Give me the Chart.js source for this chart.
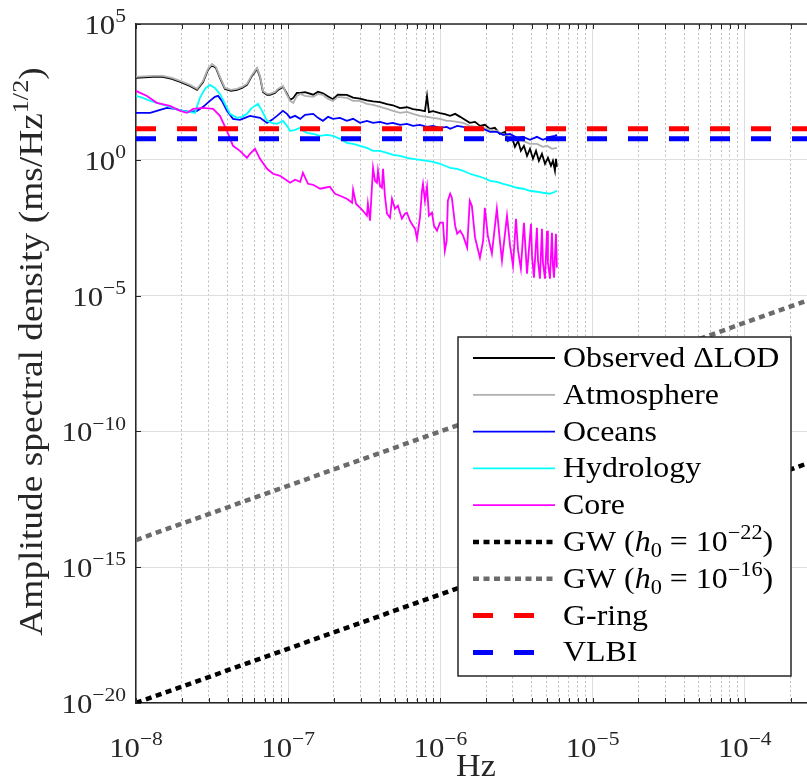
<!DOCTYPE html>
<html>
<head>
<meta charset="utf-8">
<script src="https://cdn.jsdelivr.net/npm/chart.js@4.4.1/dist/chart.umd.min.js"></script>
<style>
  html, body { margin: 0; padding: 0; background: #fff; }
  canvas { display: block; }
</style>
</head>
<body>
<canvas id="asdChart" width="807" height="780"></canvas>
<script>
// ---- values ----
const xDecades = [-8, -7, -6, -5, -4];
const xMinorSteps = [2, 3, 4, 5, 6, 7, 8, 9];
const yDecades = [-20, -15, -10, -5, 0, 5];

// Observed ΔLOD
const obsFreq = [1.0e-8, 1.29e-8, 1.50e-8, 1.72e-8, 1.95e-8, 2.26e-8, 2.52e-8, 2.76e-8, 2.97e-8, 3.16e-8,
  3.35e-8, 3.56e-8, 3.84e-8, 4.21e-8, 4.61e-8, 4.97e-8, 5.36e-8, 5.78e-8, 6.24e-8, 6.53e-8,
  6.83e-8, 7.26e-8, 7.59e-8, 8.19e-8, 8.57e-8, 9.24e-8, 9.67e-8, 1.03e-7, 1.08e-7, 1.14e-7,
  1.20e-7, 1.29e-7, 1.46e-7, 1.57e-7, 1.69e-7, 1.83e-7, 1.97e-7, 2.12e-7, 2.43e-7, 2.67e-7,
  2.96e-7, 3.29e-7, 3.61e-7, 4.01e-7, 4.46e-7, 4.88e-7, 5.43e-7, 6.03e-7, 6.61e-7, 7.34e-7,
  7.92e-7, 8.17e-7, 8.41e-7, 8.94e-7, 9.94e-7, 1.07e-6, 1.16e-6, 1.25e-6, 1.35e-6, 1.45e-6,
  1.56e-6, 1.69e-6, 1.82e-6, 1.96e-6, 2.12e-6, 2.28e-6, 2.46e-6, 2.66e-6, 2.78e-6, 2.95e-6,
  3.09e-6, 3.24e-6, 3.38e-6, 3.54e-6, 3.71e-6, 3.88e-6, 4.06e-6, 4.25e-6, 4.44e-6, 4.65e-6,
  4.87e-6, 5.09e-6, 5.33e-6, 5.49e-6, 5.66e-6, 5.75e-6, 5.83e-6];
const obsAsd = [1033, 1125, 1125, 950, 736, 526, 374, 736, 2033, 3105,
  2410, 1033, 408, 344, 374, 444, 572, 1225, 2213, 1125,
  316, 245, 245, 290, 374, 483, 316, 161, 190, 290,
  290, 310, 250, 320, 280, 215, 170, 250, 245, 195,
  180, 155, 142, 132, 112, 102, 80.0, 86.0, 73.0, 67.0,
  62.0, 225, 57.0, 62.0, 52.0, 48.0, 41.5, 49.1, 38.1, 29.6,
  22.9, 24.9, 17.8, 19.4, 13.8, 15.0, 9.03, 10.7, 5.00, 7.00,
  3.01, 5.00, 2.14, 3.27, 1.40, 2.54, 1.09, 2.14, 0.919, 1.66,
  0.713, 1.18, 0.602, 0.919, 0.394, 1.09, 0.553];

// Atmosphere
const atmFreq = [1.0e-8, 1.29e-8, 1.50e-8, 1.72e-8, 1.95e-8, 2.26e-8, 2.52e-8, 2.76e-8, 2.97e-8, 3.16e-8,
  3.35e-8, 3.56e-8, 3.84e-8, 4.21e-8, 4.61e-8, 4.97e-8, 5.36e-8, 5.78e-8, 6.24e-8, 6.53e-8,
  6.83e-8, 7.26e-8, 7.59e-8, 8.19e-8, 8.57e-8, 9.24e-8, 9.67e-8, 1.03e-7, 1.08e-7, 1.14e-7,
  1.20e-7, 1.29e-7, 1.46e-7, 1.57e-7, 1.69e-7, 1.83e-7, 1.97e-7, 2.12e-7, 2.43e-7, 2.67e-7,
  2.96e-7, 3.29e-7, 3.61e-7, 4.01e-7, 4.46e-7, 4.88e-7, 5.43e-7, 6.03e-7, 6.61e-7, 7.34e-7,
  8.17e-7, 8.94e-7, 9.94e-7, 1.10e-6, 1.16e-6, 1.29e-6, 1.41e-6, 1.56e-6, 1.74e-6, 1.91e-6,
  2.12e-6, 2.35e-6, 2.58e-6, 2.87e-6, 3.19e-6, 3.49e-6, 3.88e-6, 4.31e-6, 4.72e-6, 5.02e-6,
  5.41e-6, 5.83e-6];
const atmAsd = [1125, 1225, 1225, 1033, 802, 572, 408, 802, 2213, 3380,
  2624, 1125, 444, 374, 408, 483, 623, 1333, 2410, 1225,
  344, 267, 267, 316, 408, 526, 290, 148, 125, 225,
  267, 225, 207, 267, 245, 175, 148, 207, 190, 148,
  148, 115, 105, 88.9, 75.0, 63.3, 53.4, 58.2, 49.1, 41.5,
  38.1, 35.0, 32.2, 27.2, 27.2, 24.9, 22.9, 17.8, 16.3, 15.0,
  12.7, 11.6, 8.30, 7.63, 5.43, 5.00, 3.87, 3.87, 3.01, 3.27,
  2.54, 2.76];

// Oceans
const oceFreq = [1.0e-8, 1.24e-8, 1.44e-8, 1.60e-8, 1.80e-8, 2.04e-8, 2.26e-8, 2.52e-8, 2.76e-8, 3.06e-8,
  3.30e-8, 3.46e-8, 3.67e-8, 3.96e-8, 4.34e-8, 4.82e-8, 5.20e-8, 5.61e-8, 6.05e-8, 6.53e-8,
  7.26e-8, 7.82e-8, 8.44e-8, 9.24e-8, 9.82e-8, 1.03e-7, 1.11e-7, 1.20e-7, 1.29e-7, 1.46e-7,
  1.57e-7, 1.69e-7, 1.83e-7, 1.97e-7, 2.19e-7, 2.43e-7, 2.67e-7, 2.96e-7, 3.29e-7, 3.61e-7,
  4.01e-7, 4.46e-7, 4.88e-7, 5.43e-7, 6.03e-7, 6.61e-7, 7.34e-7, 8.17e-7, 8.94e-7, 9.94e-7,
  1.10e-6, 1.16e-6, 1.29e-6, 1.41e-6, 1.56e-6, 1.74e-6, 1.91e-6, 2.12e-6, 2.35e-6, 2.58e-6,
  2.87e-6, 3.19e-6, 3.49e-6, 3.88e-6, 4.31e-6, 4.72e-6, 5.25e-6, 5.66e-6, 5.83e-6];
const oceAsd = [53.4, 53.4, 68.9, 81.6, 75.0, 63.3, 58.2, 63.3, 88.9, 148,
  207, 225, 148, 63.3, 32.2, 29.6, 35.0, 41.5, 38.1, 35.0,
  22.9, 29.6, 41.5, 63.3, 49.1, 35.0, 41.5, 32.2, 45.1, 49.1,
  35.0, 27.2, 38.1, 32.2, 35.0, 27.2, 32.2, 22.9, 27.2, 22.9,
  24.9, 21.1, 22.9, 19.4, 21.1, 17.8, 19.4, 16.3, 17.8, 15.0,
  16.3, 13.8, 17.8, 16.3, 15.0, 12.7, 13.8, 10.7, 10.7, 8.30,
  9.03, 6.44, 7.00, 5.43, 7.00, 5.43, 7.00, 7.63, 8.30];

// Hydrology
const hydFreq = [1.0e-8, 1.11e-8, 1.24e-8, 1.44e-8, 1.60e-8, 1.80e-8, 2.04e-8, 2.26e-8, 2.44e-8, 2.63e-8,
  2.84e-8, 3.06e-8, 3.30e-8, 3.56e-8, 3.84e-8, 4.15e-8, 4.61e-8, 4.97e-8, 5.36e-8, 5.78e-8,
  6.33e-8, 6.73e-8, 7.26e-8, 7.82e-8, 8.44e-8, 9.24e-8, 9.82e-8, 1.03e-7, 1.11e-7, 1.20e-7,
  1.25e-7, 1.33e-7, 1.46e-7, 1.62e-7, 1.80e-7, 1.97e-7, 2.19e-7, 2.43e-7, 2.67e-7, 2.96e-7,
  3.29e-7, 3.61e-7, 4.01e-7, 4.46e-7, 4.88e-7, 5.43e-7, 6.03e-7, 6.61e-7, 7.34e-7, 8.17e-7,
  8.94e-7, 9.94e-7, 1.07e-6, 1.16e-6, 1.29e-6, 1.41e-6, 1.56e-6, 1.74e-6, 1.91e-6, 2.12e-6,
  2.35e-6, 2.58e-6, 2.87e-6, 3.19e-6, 3.49e-6, 3.88e-6, 4.31e-6, 4.72e-6, 5.25e-6, 5.66e-6,
  5.83e-6];
const hydAsd = [225, 190, 148, 115, 96.7, 75.0, 63.3, 58.2, 53.4, 190,
  408, 572, 444, 267, 115, 49.1, 35.0, 38.1, 49.1, 81.6,
  115, 63.3, 27.2, 22.9, 21.1, 27.2, 17.8, 11.6, 12.7, 15.0,
  11.6, 9.84, 9.03, 7.63, 8.30, 7.63, 5.92, 4.22, 3.87, 3.27,
  2.76, 2.14, 2.14, 1.81, 1.53, 1.40, 1.18, 1.09, 1.00, 0.919,
  0.844, 0.713, 0.602, 0.508, 0.467, 0.394, 0.306, 0.258, 0.218, 0.169,
  0.155, 0.131, 0.111, 0.0935, 0.0859, 0.0725, 0.0667, 0.0612, 0.0562, 0.0667,
  0.0725];

// Core
const coreFreq = [1.0e-8, 1.18e-8, 1.37e-8, 1.67e-8, 1.95e-8, 2.16e-8, 2.37e-8, 2.76e-8, 3.21e-8, 3.56e-8,
  3.96e-8, 4.34e-8, 4.82e-8, 5.36e-8, 5.61e-8, 6.05e-8, 6.53e-8, 7.26e-8, 7.95e-8, 8.84e-8,
  9.24e-8, 1.03e-7, 1.11e-7, 1.20e-7, 1.25e-7, 1.35e-7, 1.46e-7, 1.62e-7, 1.74e-7, 1.88e-7,
  2.03e-7, 2.19e-7, 2.43e-7, 2.63e-7, 2.67e-7, 2.79e-7, 2.96e-7, 3.10e-7, 3.29e-7, 3.34e-7,
  3.45e-7, 3.61e-7, 3.72e-7, 3.83e-7, 3.89e-7, 4.01e-7, 4.13e-7, 4.20e-7, 4.32e-7, 4.46e-7,
  4.67e-7, 4.81e-7, 5.03e-7, 5.26e-7, 5.43e-7, 5.59e-7, 5.85e-7, 6.03e-7, 6.31e-7, 6.61e-7,
  6.81e-7, 7.02e-7, 7.34e-7, 7.57e-7, 7.69e-7, 7.92e-7, 8.17e-7, 8.41e-7, 8.81e-7, 9.08e-7,
  9.50e-7, 9.94e-7, 1.04e-6, 1.07e-6, 1.10e-6, 1.12e-6, 1.16e-6, 1.19e-6, 1.25e-6, 1.29e-6,
  1.35e-6, 1.41e-6, 1.50e-6, 1.56e-6, 1.61e-6, 1.69e-6, 1.82e-6, 1.91e-6, 1.96e-6, 2.05e-6,
  2.18e-6, 2.35e-6, 2.46e-6, 2.54e-6, 2.74e-6, 2.87e-6, 3.00e-6, 3.14e-6, 3.24e-6, 3.38e-6,
  3.54e-6, 3.65e-6, 3.71e-6, 3.94e-6, 4.00e-6, 4.12e-6, 4.31e-6, 4.38e-6, 4.51e-6, 4.65e-6,
  4.72e-6, 4.87e-6, 5.02e-6, 5.09e-6, 5.25e-6, 5.41e-6, 5.49e-6, 5.58e-6, 5.75e-6, 5.83e-6];
const coreAsd = [344, 225, 125, 96.7, 63.3, 53.4, 75.0, 81.6, 75.0, 41.5,
  11.6, 3.27, 2.14, 1.18, 1.66, 2.54, 1.09, 0.467, 0.306, 0.258,
  0.218, 0.143, 0.184, 0.155, 0.333, 0.131, 0.120, 0.0859, 0.0935, 0.102,
  0.0562, 0.0475, 0.0368, 0.0262, 0.0789, 0.0241, 0.0172, 0.0133, 0.00874, 0.0241,
  0.00572, 0.508, 0.169, 0.143, 0.394, 0.111, 0.0935, 0.467, 0.0475, 0.0103,
  0.00738, 0.0368, 0.0158, 0.0204, 0.0113, 0.00678, 0.0103, 0.0113, 0.00572, 0.00375,
  0.00291, 0.00125, 0.00738, 0.0725, 0.131, 0.0311, 0.102, 0.00874, 0.0113, 0.00375,
  0.00245, 0.00483, 0.00483, 0.000451, 0.00105, 0.0311, 0.0562, 0.0401, 0.00375, 0.00190,
  0.00245, 0.00161, 0.000582, 0.0311, 0.0204, 0.00136, 0.000249, 0.00105, 0.0172, 0.00161,
  0.000350, 0.0158, 0.00105, 0.000194, 0.00874, 0.000690, 0.000127, 0.00678, 0.000451, 0.0000984,
  0.00483, 0.000296, 0.0000644, 0.00444, 0.000296, 0.0000459, 0.00316, 0.000194, 0.0000422, 0.00291,
  0.000164, 0.0000422, 0.00245, 0.000164, 0.0000422, 0.00207, 0.000127, 0.0000459, 0.00190, 0.000107];

// gravitational-wave strain lines and instrument noise levels (end points)
const gwFreq = [1e-8, 1e-3];
const gwLow = [1e-20, 1e-10];
const gwHigh = [1e-14, 1e-4];
const levelFreq = [1e-8, 1e-3];
const gRing = [14, 14];
const vlbi = [6, 6];

// legend text, split into plain / italic / sub / sup pieces
const legendParts = [
  [{t: 'Observed ΔLOD'}],
  [{t: 'Atmosphere'}],
  [{t: 'Oceans'}],
  [{t: 'Hydrology'}],
  [{t: 'Core'}],
  [{t: 'GW ('}, {t: 'h', s: 'i'}, {t: '0', s: 'sub'}, {t: ' = 10'}, {t: '−22', s: 'sup'}, {t: ')'}],
  [{t: 'GW ('}, {t: 'h', s: 'i'}, {t: '0', s: 'sub'}, {t: ' = 10'}, {t: '−16', s: 'sup'}, {t: ')'}],
  [{t: 'G-ring'}],
  [{t: 'VLBI'}]
];
const xTitle = [{t: 'Hz'}];
const yTitle = [{t: 'Amplitude spectral density (ms/Hz'}, {t: '1/2', s: 'sup'}, {t: ')'}];

// ---- helpers ----
const SERIF = '"Liberation Serif", "DejaVu Serif", serif';
const SX = 1.1; // widen Times-like glyphs toward Computer Modern widths
const AXIS_COLOR = '#262626';

const pairs = (xs, ys) => xs.map((x, i) => ({x: x, y: ys[i]}));
const isDecade = v => Math.abs(Math.log10(v) - Math.round(Math.log10(v))) < 1e-6;
const expText = e => (e < 0 ? '−' + Math.abs(e) : String(e));

const xTicks = [];
xDecades.forEach(e => {
  xTicks.push(Math.pow(10, e));
  xMinorSteps.forEach(m => xTicks.push(m * Math.pow(10, e)));
});

function partStyle(p, size) {
  if (p.s === 'sup') return {size: size * 0.7, dy: -size * 0.42, italic: false};
  if (p.s === 'sub') return {size: size * 0.7, dy: size * 0.22, italic: false};
  return {size: size, dy: 0, italic: p.s === 'i'};
}
function setFont(ctx, size, italic) {
  ctx.font = (italic ? 'italic ' : '') + size.toFixed(1) + 'px ' + SERIF;
}
function richWidth(ctx, parts, size) {
  let w = 0;
  parts.forEach(p => {
    const st = partStyle(p, size);
    setFont(ctx, st.size, st.italic);
    w += ctx.measureText(p.t).width * SX;
  });
  return w;
}
function drawRich(ctx, parts, x, y, size, align) {
  const w = richWidth(ctx, parts, size);
  let cx = align === 'center' ? x - w / 2 : (align === 'right' ? x - w : x);
  ctx.textAlign = 'left';
  ctx.textBaseline = 'alphabetic';
  parts.forEach(p => {
    const st = partStyle(p, size);
    setFont(ctx, st.size, st.italic);
    ctx.save();
    ctx.translate(cx, y + st.dy);
    ctx.scale(SX, 1);
    ctx.fillText(p.t, 0, 0);
    ctx.restore();
    cx += ctx.measureText(p.t).width * SX;
  });
}

// ticks pointing inward, tick labels, axis titles, top border and legend
const decorations = {
  id: 'decorations',
  afterDraw(chart) {
    const ctx = chart.ctx;
    const area = chart.chartArea;
    const xs = chart.scales.x;
    const ys = chart.scales.y;
    ctx.save();

    // top border
    ctx.strokeStyle = AXIS_COLOR;
    ctx.lineWidth = 1.5;
    ctx.beginPath();
    ctx.moveTo(area.left, area.top);
    ctx.lineTo(area.right, area.top);
    ctx.stroke();

    // inward tick marks
    ctx.lineWidth = 1;
    ctx.beginPath();
    xTicks.forEach(v => {
      const px = Math.round(xs.getPixelForValue(v)) + 0.5;
      if (px > area.right) return;
      ctx.moveTo(px, area.bottom); ctx.lineTo(px, area.bottom - 5);
      ctx.moveTo(px, area.top); ctx.lineTo(px, area.top + 5);
    });
    yDecades.forEach(e => {
      const py = Math.round(ys.getPixelForValue(Math.pow(10, e))) + 0.5;
      ctx.moveTo(area.left, py); ctx.lineTo(area.left + 5, py);
    });
    ctx.stroke();

    // tick labels
    ctx.fillStyle = AXIS_COLOR;
    xDecades.forEach(e => {
      const px = xs.getPixelForValue(Math.pow(10, e));
      drawRich(ctx, [{t: '10'}, {t: expText(e), s: 'sup'}], px, 757, 28, 'center');
    });
    yDecades.forEach(e => {
      const py = ys.getPixelForValue(Math.pow(10, e));
      drawRich(ctx, [{t: '10'}, {t: expText(e), s: 'sup'}], 126, py + 10, 28, 'right');
    });

    // axis titles
    drawRich(ctx, xTitle, 476, 776, 31, 'center');
    ctx.save();
    ctx.translate(42, (area.top + area.bottom) / 2 - 12);
    ctx.rotate(-Math.PI / 2);
    drawRich(ctx, yTitle, 0, 0, 34, 'center');
    ctx.restore();

    // legend
    const box = {left: 458, top: 337, right: 791, bottom: 676};
    ctx.fillStyle = '#ffffff';
    ctx.fillRect(box.left, box.top, box.right - box.left, box.bottom - box.top);
    ctx.strokeStyle = AXIS_COLOR;
    ctx.lineWidth = 1.5;
    ctx.strokeRect(box.left, box.top, box.right - box.left, box.bottom - box.top);
    chart.data.datasets.forEach((ds, i) => {
      const cy = 358 + i * 36.8;
      ctx.save();
      ctx.strokeStyle = ds.borderColor;
      ctx.lineWidth = ds.borderWidth;
      ctx.setLineDash(ds.borderDash || []);
      ctx.beginPath();
      ctx.moveTo(473, cy);
      ctx.lineTo(555, cy);
      ctx.stroke();
      ctx.restore();
      ctx.fillStyle = '#000000';
      drawRich(ctx, legendParts[i], 563, cy + 9, 29, 'left');
    });

    ctx.restore();
  }
};

const series = [
  {label: 'Observed ΔLOD', data: pairs(obsFreq, obsAsd), borderColor: '#000000', borderWidth: 1.8},
  {label: 'Atmosphere', data: pairs(atmFreq, atmAsd), borderColor: '#b0b0b0', borderWidth: 1.8},
  {label: 'Oceans', data: pairs(oceFreq, oceAsd), borderColor: '#0000ff', borderWidth: 1.8},
  {label: 'Hydrology', data: pairs(hydFreq, hydAsd), borderColor: '#00ffff', borderWidth: 1.8},
  {label: 'Core', data: pairs(coreFreq, coreAsd), borderColor: '#ff00ff', borderWidth: 1.8},
  {label: 'GW (h0 = 1e-22)', data: pairs(gwFreq, gwLow), borderColor: '#000000', borderWidth: 4.5, borderDash: [6, 4.5]},
  {label: 'GW (h0 = 1e-16)', data: pairs(gwFreq, gwHigh), borderColor: '#6b6b6b', borderWidth: 4.5, borderDash: [6, 4.5]},
  {label: 'G-ring', data: pairs(levelFreq, gRing), borderColor: '#ff0000', borderWidth: 5, borderDash: [20, 21]},
  {label: 'VLBI', data: pairs(levelFreq, vlbi), borderColor: '#0000ff', borderWidth: 5, borderDash: [20, 21]}
];
// later series sit on top, like the plotting order of the original
series.forEach((s, i) => {
  s.order = series.length - 1 - i;
  s.pointRadius = 0;
  s.tension = 0;
  s.fill = false;
  s.borderCapStyle = 'butt';
});

const gridColor = ctx => (ctx.tick && !isDecade(ctx.tick.value) ? '#bdbdbd' : '#dedede');
const gridDash = ctx => (ctx.tick && !isDecade(ctx.tick.value) ? [2, 2.5] : []);

new Chart(document.getElementById('asdChart'), {
  type: 'line',
  data: {datasets: series},
  plugins: [decorations],
  options: {
    responsive: false,
    devicePixelRatio: 1,
    animation: false,
    events: [],
    layout: {padding: {left: 0, right: 0, top: 24, bottom: 0}},
    plugins: {legend: {display: false}, tooltip: {enabled: false}},
    scales: {
      x: {
        type: 'logarithmic',
        min: 1e-8,
        max: 2.565e-4,
        afterBuildTicks: s => { s.ticks = xTicks.map(v => ({value: v})); },
        afterFit: s => { s.height = 77; },
        ticks: {display: false},
        grid: {color: gridColor, lineWidth: 1, drawTicks: false},
        border: {display: true, color: AXIS_COLOR, width: 1.5, dash: gridDash}
      },
      y: {
        type: 'logarithmic',
        min: 1e-20,
        max: 1e5,
        afterBuildTicks: s => { s.ticks = yDecades.map(e => ({value: Math.pow(10, e)})); },
        afterFit: s => { s.width = 136; },
        ticks: {display: false},
        grid: {color: '#dedede', lineWidth: 1, drawTicks: false},
        border: {display: true, color: AXIS_COLOR, width: 1.5}
      }
    }
  }
});
</script>
</body>
</html>
